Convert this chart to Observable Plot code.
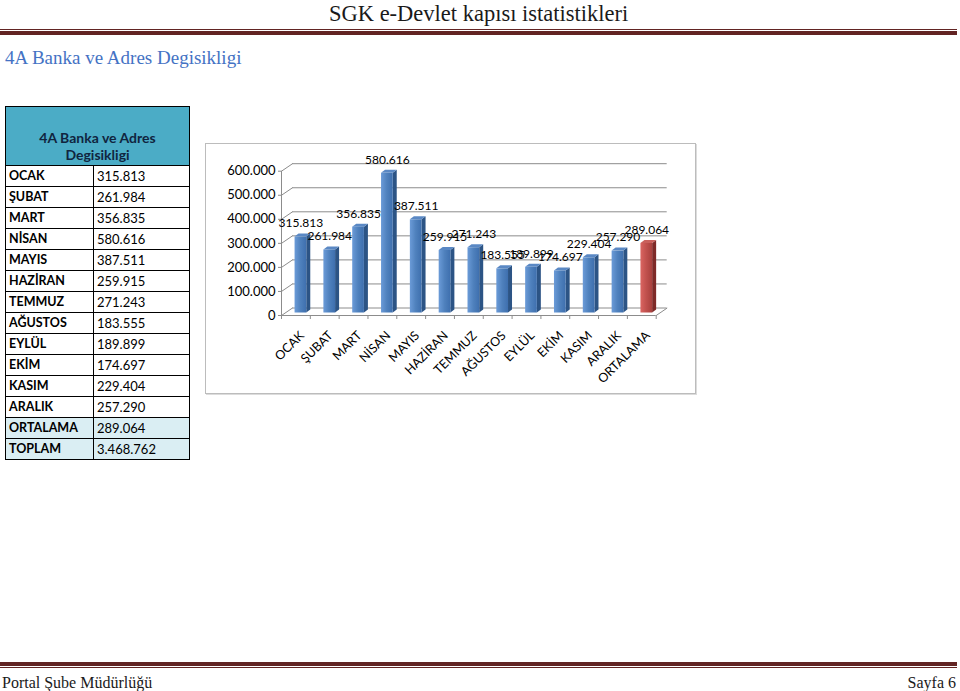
<!DOCTYPE html>
<html><head><meta charset="utf-8">
<script src="https://cdn.jsdelivr.net/npm/d3@7"></script>
<script src="https://cdn.jsdelivr.net/npm/@observablehq/plot@0.6"></script>
<style>
html,body{margin:0;padding:0;background:#fff;}
body{width:960px;height:691px;position:relative;overflow:hidden;font-family:"Liberation Serif",serif;}
.abs{position:absolute;white-space:nowrap;line-height:1;}
#hdr{left:329px;top:3px;font-size:22.5px;color:#1a1a1a;}
#title{left:5px;top:48px;font-size:19px;color:#4472C4;}
.bar{position:absolute;left:0;width:957px;background:#622423;}
#foot1{top:675px;left:2px;font-size:16px;color:#1a1a1a;}
#foot2{top:675px;right:4px;font-size:16px;color:#1a1a1a;}
#tbl{position:absolute;left:5px;top:106px;border-collapse:collapse;table-layout:fixed;font-family:Lato,"Liberation Sans",sans-serif;font-size:13px;color:#000;}
#tbl td{border:1px solid #000;height:20px;padding:0 0 0 3px;line-height:1;}
#tbl td.lab{font-weight:bold;font-size:12.5px;}
#tbl th{background:#4BACC6;border:1px solid #000;height:56px;vertical-align:bottom;font-size:14px;font-weight:bold;color:#10253F;padding:0 0 2px 0;line-height:17px;}
#tbl tr.light td{background:#DAEEF3;}
#frame{position:absolute;left:205px;top:143px;width:489px;height:249px;border:1px solid #bcbcbc;box-shadow:1px 1px 0 #dcdcdc;}
#chart{position:absolute;left:205px;top:143px;}
</style></head>
<body>
<div class="abs" id="hdr">SGK e-Devlet kapısı istatistikleri</div>
<div class="bar" style="top:29px;height:1px;"></div>
<div class="bar" style="top:31px;height:4px;"></div>
<div class="abs" id="title">4A Banka ve Adres Degisikligi</div>
<table id="tbl"><colgroup><col style="width:88px"><col style="width:96px"></colgroup><thead></thead><tbody></tbody></table>
<div id="frame"></div>
<div id="chart"></div>
<div class="bar" style="top:662px;height:4px;"></div>
<div class="bar" style="top:667px;height:1px;"></div>
<div class="abs" id="foot1">Portal Şube Müdürlüğü</div>
<div class="abs" id="foot2">Sayfa 6</div>
<script>
// ---- data ----
const tableTitle = "4A Banka ve Adres Degisikligi";
const months = ["OCAK","ŞUBAT","MART","NİSAN","MAYIS","HAZİRAN","TEMMUZ","AĞUSTOS","EYLÜL","EKİM","KASIM","ARALIK","ORTALAMA"];
const values = [315813,261984,356835,580616,387511,259915,271243,183555,189899,174697,229404,257290,289064];
const totalLabel = "TOPLAM";
const totalValue = 3468762;
const yTicks = [0,100000,200000,300000,400000,500000,600000];

const tr = d3.formatLocale({decimal:",",thousands:".",grouping:[3],currency:["",""]});
const fmt = tr.format(",");

// ---- table ----
const thead = document.querySelector("#tbl thead");
thead.innerHTML = `<tr><th colspan="2">4A Banka ve Adres<br>Degisikligi</th></tr>`;
const tbody = document.querySelector("#tbl tbody");
const rows = months.map((m,i)=>({m, v: values[i], light: m==="ORTALAMA"})).concat([{m: totalLabel, v: totalValue, light:true}]);
for (const r of rows) {
  const t = document.createElement("tr");
  if (r.light) t.className = "light";
  t.innerHTML = `<td class="lab">${r.m}</td><td>${fmt(r.v)}</td>`;
  tbody.appendChild(t);
}

// ---- chart ----
const W = 490, H = 250, mL = 76, mR = 39.3, mT = 27.7, mB = 78;
const pxX = (W - mL - mR) / 13;            // px per x unit
const pxY = (H - mT - mB) / 600000;        // px per y unit
const backDX = 11, backDY = 7.5;           // depth of the 3D box (px)
const bx = backDX / pxX, by = backDY / pxY;
const hw = 5.85 / pxX;                     // half width of a bar front
const sx = 4 / pxX, sy = 3 / pxY;          // bar depth
const barDX = 5, barDY = -2.5;

const bars = months.map((m,i)=>({m, i, v: values[i], red: m==="ORTALAMA"}));
const side = bars.flatMap(d=>[{...d, x: d.i+hw, y1:0, y2:d.v},{...d, x: d.i+hw+sx, y1: sy, y2: d.v+sy}]);
const top_ = bars.flatMap(d=>[{...d, y: d.v, x1: d.i-hw, x2: d.i+hw},{...d, y: d.v+sy, x1: d.i-hw+sx, x2: d.i+hw+sx}]);
const bounds = d3.range(14).map(k=>k-0.5);

const defs = () => {
  const g = document.createElementNS("http://www.w3.org/2000/svg","defs");
  g.innerHTML = `
  <linearGradient id="gBlue" x1="0" x2="1" y1="0" y2="0"><stop offset="0" stop-color="#6B9BD8"/><stop offset="0.5" stop-color="#4F81BD"/><stop offset="1" stop-color="#3E6FAE"/></linearGradient>
  <linearGradient id="gRed" x1="0" x2="1" y1="0" y2="0"><stop offset="0" stop-color="#DA6561"/><stop offset="0.5" stop-color="#C0504D"/><stop offset="1" stop-color="#A8403D"/></linearGradient>`;
  return g;
};
const grid = "#8c8c8c";

const chart = Plot.plot({
  width: W, height: H,
  marginLeft: mL, marginRight: mR, marginTop: mT, marginBottom: mB,
  style: {fontFamily: "Lato, 'Liberation Sans', sans-serif", fontSize: "13px", color: "#000", background: "transparent"},
  x: {type: "linear", domain: [-0.5, 12.5]},
  y: {domain: [0, 600000]},
  marks: [
    defs,
    Plot.ruleY(yTicks, {y: d=>d, x1: -0.5, x2: 12.5, dx: backDX, dy: -backDY, stroke: grid}),
    Plot.link(yTicks, {x1: -0.5, x2: -0.5 + bx, y1: d=>d, y2: d=>d + by, stroke: grid}),
    Plot.link([0], {x1: 12.5, x2: 12.5 + bx, y1: 0, y2: by, stroke: grid}),
    Plot.ruleY([0], {x1: -0.5, x2: 12.5, stroke: grid}),
    Plot.ruleX([-0.5], {y1: 0, y2: 600000, stroke: grid}),
    Plot.ruleX(bounds, {x: d=>d, y1: 0, y2: -4/pxY, stroke: grid}),
    Plot.areaY(side, {filter: d=>!d.red, x: "x", y1: "y1", y2: "y2", z: "m", fill: "#2C5485", dx: barDX, dy: barDY}),
    Plot.areaY(side, {filter: d=>d.red, x: "x", y1: "y1", y2: "y2", z: "m", fill: "#7E2A28", dx: barDX, dy: barDY}),
    Plot.areaX(top_, {filter: d=>!d.red, y: "y", x1: "x1", x2: "x2", z: "m", fill: "#5A88C4", dx: barDX, dy: barDY}),
    Plot.areaX(top_, {filter: d=>d.red, y: "y", x1: "x1", x2: "x2", z: "m", fill: "#C9605C", dx: barDX, dy: barDY}),
    Plot.rect(bars, {filter: d=>!d.red, x1: d=>d.i-hw, x2: d=>d.i+hw, y1: 0, y2: "v", fill: "url(#gBlue)", dx: barDX, dy: barDY}),
    Plot.rect(bars, {filter: d=>d.red, x1: d=>d.i-hw, x2: d=>d.i+hw, y1: 0, y2: "v", fill: "url(#gRed)", dx: barDX, dy: barDY}),
    Plot.text(bars, {x: "i", y: "v", text: d=>fmt(d.v), dx: barDX, dy: -16, fontSize: 12, fill: "#000"}),
    Plot.axisY({ticks: yTicks, tickFormat: fmt, tickSize: 3, tickPadding: 3, fontSize: 13, label: null, stroke: grid}),
    Plot.axisX({ticks: d3.range(13), tickFormat: i=>months[i], tickRotate: -45, tickSize: 0, tickPadding: 18, dx: 6, fontSize: 12.5, label: null})
  ]
});
document.getElementById("chart").appendChild(chart);
</script>
</body></html>
